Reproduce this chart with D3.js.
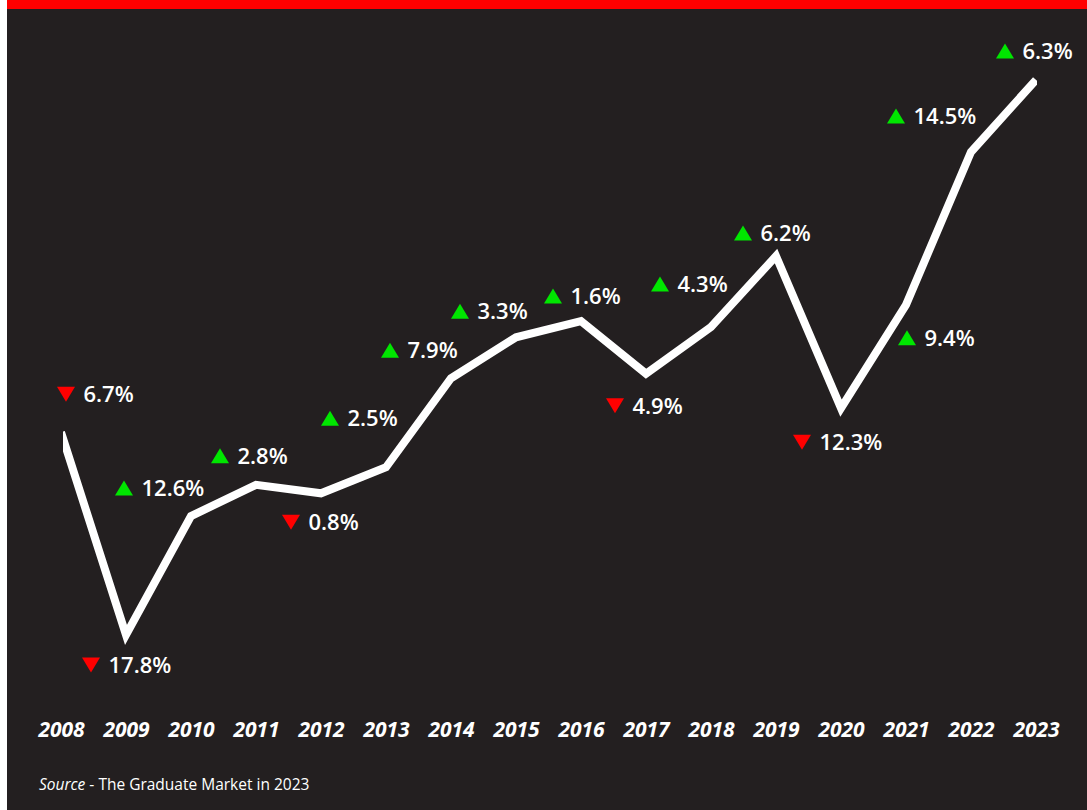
<!DOCTYPE html>
<html><head><meta charset="utf-8">
<script src="https://cdn.jsdelivr.net/npm/d3@7"></script>
<style>html,body{margin:0;padding:0;background:#fff;} svg{display:block}</style>
</head><body>
<svg id="chart" width="1087" height="810"></svg>
<script>
// ---- data ----
const years = [2008, 2009, 2010, 2011, 2012, 2013, 2014, 2015, 2016, 2017, 2018, 2019, 2020, 2021, 2022, 2023];
// relative level of graduate vacancies (index)
const indexValues = [41.2, 10.0, 28.3, 33.1, 31.8, 35.8, 49.5, 55.8, 58.3, 50.2, 57.4, 68.3, 44.9, 60.8, 84.3, 95.4];
// year-on-year change, %
const changes = [-6.7, -17.8, 12.6, 2.8, -0.8, 2.5, 7.9, 3.3, 1.6, -4.9, 4.3, 6.2, -12.3, 9.4, 14.5, 6.3];
const sourceItalic = "Source";
const sourceRest = " - The Graduate Market in 2023";

// ---- layout (label offsets from each point, px) ----
const labelOffsets = [
  [5, -38], [-35, 30], [-67, -28], [-36, -29], [-30, 29], [-56, -49], [-61, -28], [-56, -26],
  [-28, -25], [-31, 32], [-51, -43], [-33, -23], [-39, 34], [1, 33], [-75, -36], [-31, -29]
];

const W = 1087, H = 810;
const svg = d3.select("#chart");

svg.append("rect").attr("x", 0).attr("y", 0).attr("width", W).attr("height", H).attr("fill", "#ffffff");
svg.append("rect").attr("x", 7).attr("y", 0).attr("width", W - 7).attr("height", H).attr("fill", "#231f20");
svg.append("rect").attr("x", 7).attr("y", 0).attr("width", W - 7).attr("height", 9).attr("fill", "#ff0000");

const x = d3.scalePoint().domain(years).range([61, 1036]);
const y = d3.scaleLinear().domain([0, 100]).range([700, 50]);

const data = years.map((yr, i) => ({ year: yr, value: indexValues[i], change: changes[i], off: labelOffsets[i] }));

svg.append("defs").append("clipPath").attr("id", "clip")
  .append("rect").attr("x", 63).attr("y", 0).attr("width", 1037 - 63).attr("height", H);

const line = d3.line().x(d => x(d.year)).y(d => y(d.value));
svg.append("path")
  .datum(data)
  .attr("clip-path", "url(#clip)")
  .attr("d", line)
  .attr("fill", "none")
  .attr("stroke", "#ffffff")
  .attr("stroke-width", 8)
  .attr("stroke-linejoin", "miter")
  .attr("stroke-linecap", "butt");

// change labels
const lab = svg.append("g").selectAll("g").data(data).join("g")
  .attr("transform", d => `translate(${x(d.year) + d.off[0]},${y(d.value) + d.off[1]})`);

lab.append("path")
  .attr("d", d => d.change >= 0 ? "M-9,7.5L9,7.5L0,-7.5Z" : "M-9,-7.5L9,-7.5L0,7.5Z")
  .attr("fill", d => d.change >= 0 ? "#00e600" : "#ff0000");

lab.append("text")
  .attr("x", 17.5)
  .attr("y", 7.8)
  .attr("fill", "#ffffff")
  .style("font-family", "'Open Sans', sans-serif")
  .style("font-weight", 600)
  .style("font-size", "22px")
  .text(d => Math.abs(d.change).toFixed(1) + "%");

// x axis
const axis = d3.axisBottom(x).tickSize(0).tickPadding(0);
const gx = svg.append("g").attr("transform", "translate(0,737)").call(axis);
gx.select(".domain").remove();
gx.selectAll("text")
  .attr("y", 0).attr("dy", 0)
  .attr("fill", "#ffffff")
  .style("font-family", "'Open Sans', sans-serif")
  .style("font-weight", 700)
  .style("font-style", "italic")
  .style("font-size", "21px");

// source
const src = svg.append("text").attr("x", 39).attr("y", 790)
  .attr("fill", "#ffffff")
  .style("font-family", "'Open Sans', sans-serif")
  .style("font-size", "15.5px");
src.append("tspan").style("font-style", "italic").text(sourceItalic);
src.append("tspan").text(sourceRest);
</script>
</body></html>
